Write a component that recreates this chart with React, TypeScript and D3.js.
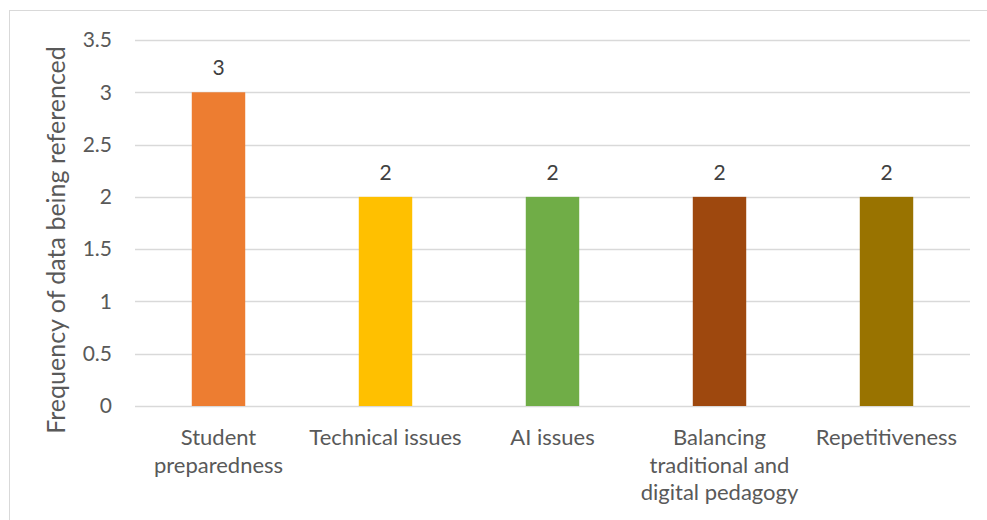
import React, { useEffect, useRef } from 'react';
import * as d3 from 'd3';

const categories = [
  'Student preparedness',
  'Technical issues',
  'AI issues',
  'Balancing traditional and digital pedagogy',
  'Repetitiveness',
];
const values = [3, 2, 2, 2, 2];
const colors = ['#ED7D31', '#FFC000', '#70AD47', '#9E480E', '#997300'];
const yTicks = [0, 0.5, 1, 1.5, 2, 2.5, 3, 3.5];
// wrapped label lines, as they break in the picture
const labelLines = [
  ['Student', 'preparedness'],
  ['Technical issues'],
  ['AI issues'],
  ['Balancing', 'traditional and', 'digital pedagogy'],
  ['Repetitiveness'],
];

const W = 987;
const H = 520;
const FONT = 'Lato, "Open Sans", sans-serif';

const App = () => {
  const svgRef = useRef<SVGSVGElement | null>(null);

  useEffect(() => {
    if (!svgRef.current) return;
    const svg = d3.select(svgRef.current);
    svg.selectAll('*').remove();

    const left = 135, right = 970, top = 40, bottom = 406;

    const x = d3.scaleBand<string>()
      .domain(categories)
      .range([left, right])
      .paddingInner(0.68)
      .paddingOuter(0.34);

    const y = d3.scaleLinear().domain([0, 3.5]).range([bottom, top]);

    // outer chart border
    svg.append('rect')
      .attr('x', 9.5).attr('y', 10.5)
      .attr('width', W + 10).attr('height', H + 10)
      .attr('fill', 'white')
      .attr('stroke', '#d9d9d9');

    // gridlines
    svg.append('g')
      .selectAll('line')
      .data(yTicks)
      .join('line')
      .attr('x1', left).attr('x2', right)
      .attr('y1', d => Math.round(y(d)) + 0.5)
      .attr('y2', d => Math.round(y(d)) + 0.5)
      .attr('stroke', '#d9d9d9')
      .attr('stroke-width', 1.3);

    // y tick labels
    svg.append('g')
      .selectAll('text')
      .data(yTicks)
      .join('text')
      .attr('x', 112)
      .attr('y', d => y(d))
      .attr('dy', '0.35em')
      .attr('text-anchor', 'end')
      .attr('font-family', FONT)
      .attr('font-size', 21)
      .attr('fill', '#595959')
      .text(d => String(d));

    // bars
    svg.append('g')
      .selectAll('rect')
      .data(values)
      .join('rect')
      .attr('x', (d, i) => x(categories[i])!)
      .attr('y', d => y(d))
      .attr('width', x.bandwidth())
      .attr('height', d => bottom - y(d))
      .attr('fill', (d, i) => colors[i]);

    // value labels
    svg.append('g')
      .selectAll('text')
      .data(values)
      .join('text')
      .attr('x', (d, i) => x(categories[i])! + x.bandwidth() / 2)
      .attr('y', d => y(d) - 17)
      .attr('text-anchor', 'middle')
      .attr('font-family', FONT)
      .attr('font-size', 21)
      .attr('fill', '#404040')
      .text(d => String(d));

    // category labels
    const cat = svg.append('g');
    categories.forEach((c, i) => {
      const cx = x(c)! + x.bandwidth() / 2;
      const t = cat.append('text')
        .attr('text-anchor', 'middle')
        .attr('font-family', FONT)
        .attr('font-size', 22)
        .attr('fill', '#595959');
      labelLines[i].forEach((line, j) => {
        t.append('tspan').attr('x', cx).attr('y', 445 + j * 27.5).text(line);
      });
    });

    // y axis title
    svg.append('text')
      .attr('transform', `translate(65, 240) rotate(-90)`)
      .attr('text-anchor', 'middle')
      .attr('font-family', FONT)
      .attr('font-size', 25)
      .attr('fill', '#595959')
      .text('Frequency of data being referenced');
  }, []);

  return (
    <div style={{ position: 'absolute', left: 0, top: 0 }}>
      <svg ref={svgRef} width={W} height={H} style={{ display: 'block' }} />
    </div>
  );
};

export default App;
